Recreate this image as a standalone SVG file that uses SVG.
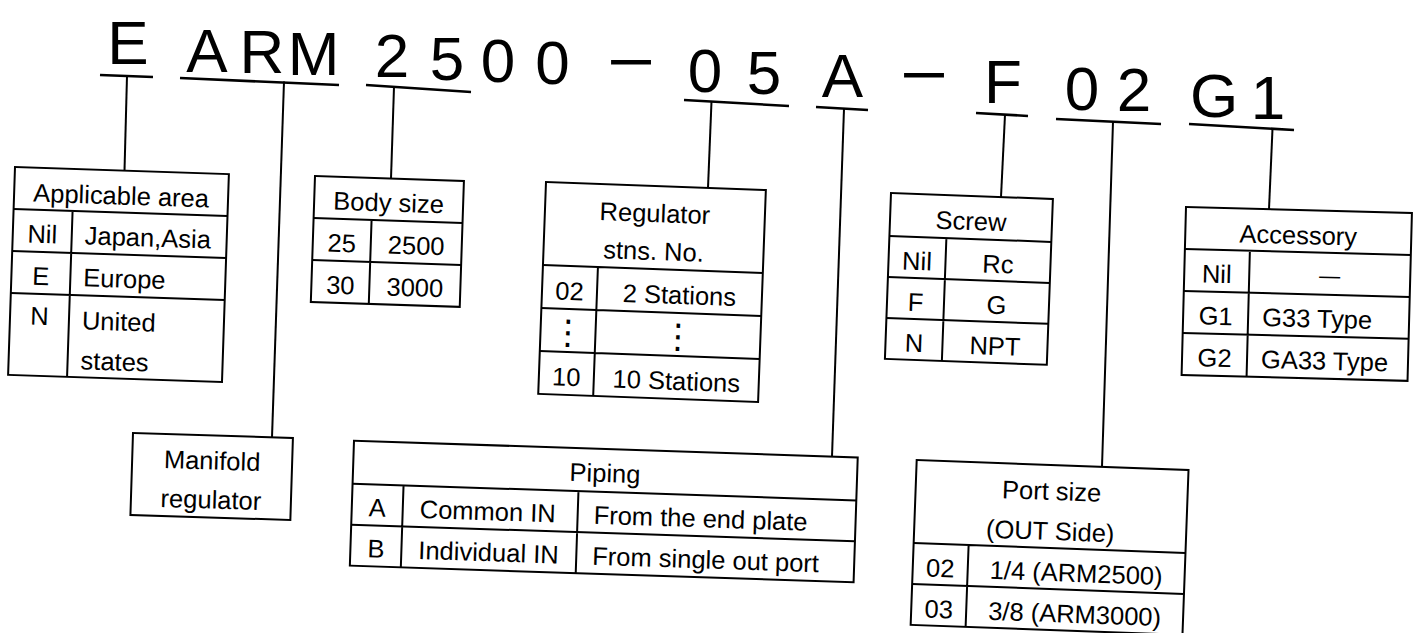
<svg xmlns="http://www.w3.org/2000/svg" width="1420" height="633" viewBox="0 0 1420 633">
<style>
text { font-family: "Liberation Sans", Arial, "DejaVu Sans", sans-serif; fill: #000; }
.t { font-size: 25.5px; }
.c { text-anchor: middle; }
.h { font-size: 62px; text-anchor: middle; }
.box { fill: #fff; stroke: #000; stroke-width: 2; }
.grid { fill: none; stroke: #000; stroke-width: 2; }
.ul { stroke: #000; stroke-width: 2.6; }
.ld { stroke: #000; stroke-width: 2; }
.dots { font-family: "DejaVu Sans", sans-serif; font-size: 34px; text-anchor: middle; }
.em { font-size: 21px; text-anchor: middle; }
</style>
<rect width="1420" height="633" fill="#fff"/>

<g id="model-code">
<text class="h" x="128" y="64">E</text>
<text class="h" x="207" y="71.5">A</text>
<text class="h" x="262" y="73">R</text>
<text class="h" x="313.5" y="74.5">M</text>
<text class="h" x="392" y="77">2</text>
<text class="h" x="447" y="79.5">5</text>
<text class="h" x="498" y="82">0</text>
<text class="h" x="552.5" y="84">0</text>
<text class="h" x="631" y="83" textLength="48" lengthAdjust="spacingAndGlyphs">−</text>
<text class="h" x="705" y="92">0</text>
<text class="h" x="764" y="94">5</text>
<text class="h" x="842.5" y="97">A</text>
<text class="h" x="924" y="96" textLength="48" lengthAdjust="spacingAndGlyphs">−</text>
<text class="h" x="1003" y="103">F</text>
<text class="h" x="1082" y="109.5">0</text>
<text class="h" x="1134" y="111">2</text>
<text class="h" x="1214" y="117">G</text>
<text class="h" x="1268" y="119">1</text>
</g>

<g id="connectors">
<line class="ul" x1="100" y1="75" x2="153" y2="77"/>
<line class="ul" x1="180" y1="78" x2="339" y2="85"/>
<line class="ul" x1="366" y1="85" x2="471" y2="92"/>
<line class="ul" x1="684" y1="100" x2="789" y2="106"/>
<line class="ul" x1="816" y1="107" x2="868" y2="110"/>
<line class="ul" x1="976" y1="113" x2="1028" y2="116"/>
<line class="ul" x1="1056" y1="119" x2="1161" y2="124"/>
<line class="ul" x1="1189" y1="124" x2="1294" y2="130"/>
<line class="ld" x1="127" y1="76" x2="124.5" y2="170.6"/>
<line class="ld" x1="284" y1="81.5" x2="272" y2="437.4"/>
<line class="ld" x1="394" y1="87" x2="391" y2="178.5"/>
<line class="ld" x1="711.5" y1="101.5" x2="708" y2="187.9"/>
<line class="ld" x1="844" y1="108.6" x2="832" y2="456.6"/>
<line class="ld" x1="1005" y1="114.7" x2="1001" y2="197"/>
<line class="ld" x1="1113" y1="121.7" x2="1102" y2="466.8"/>
<line class="ld" x1="1272.5" y1="128.7" x2="1269" y2="209.2"/>
</g>

<g id="applicable-area" transform="translate(15,167) rotate(1.9)">
<rect class="box" x="0" y="0" width="214" height="208"/>
<path class="grid" d="M0 42H214M0 84H214M0 126H214M59 42V208"/>
<text class="t c" x="107" y="34">Applicable area</text>
<text class="t c" x="29.5" y="75">Nil</text>
<text class="t" x="72" y="75">Japan,Asia</text>
<text class="t c" x="29.5" y="117">E</text>
<text class="t" x="72" y="117">Europe</text>
<text class="t c" x="29.5" y="157">N</text>
<text class="t" x="72" y="160">United</text>
<text class="t" x="72" y="200">states</text>
</g>

<g id="body-size" transform="translate(315,176) rotate(1.9)">
<rect class="box" x="0" y="0" width="149" height="126"/>
<path class="grid" d="M0 42H149M0 84H149M58 42V126"/>
<text class="t c" x="74.5" y="33">Body size</text>
<text class="t c" x="29" y="75">25</text>
<text class="t c" x="103.5" y="75">2500</text>
<text class="t c" x="29" y="117">30</text>
<text class="t c" x="103.5" y="117">3000</text>
</g>

<g id="regulator-stations" transform="translate(546,182) rotate(2.1)">
<rect class="box" x="0" y="0" width="220" height="212"/>
<path class="grid" d="M0 83H220M0 126H220M0 169H220M55 83V212"/>
<text class="t c" x="110" y="36">Regulator</text>
<text class="t c" x="110" y="74">stns. No.</text>
<text class="t c" x="27.5" y="117">02</text>
<text class="t c" x="137.5" y="117">2 Stations</text>
<text class="dots" x="27.5" y="161">⋮</text>
<text class="dots" x="137.5" y="161">⋮</text>
<text class="t c" x="27.5" y="203">10</text>
<text class="t c" x="137.5" y="203">10 Stations</text>
</g>

<g id="screw" transform="translate(891,193) rotate(2.1)">
<rect class="box" x="0" y="0" width="162" height="166"/>
<path class="grid" d="M0 43H162M0 84H162M0 125H162M57 43V166"/>
<text class="t c" x="81" y="34">Screw</text>
<text class="t c" x="28.5" y="76">Nil</text>
<text class="t c" x="109.5" y="76">Rc</text>
<text class="t c" x="28.5" y="117">F</text>
<text class="t c" x="109.5" y="117">G</text>
<text class="t c" x="28.5" y="158">N</text>
<text class="t c" x="109.5" y="158">NPT</text>
</g>

<g id="accessory" transform="translate(1186,207) rotate(1.5)">
<rect class="box" x="0" y="0" width="226" height="168"/>
<path class="grid" d="M0 42H226M0 84H226M0 126H226M65 42V168"/>
<text class="t c" x="113" y="34">Accessory</text>
<text class="t c" x="32.5" y="75">Nil</text>
<text class="em" x="145.5" y="72">—</text>
<text class="t c" x="32.5" y="117">G1</text>
<text class="t" x="79" y="117">G33 Type</text>
<text class="t c" x="32.5" y="159">G2</text>
<text class="t" x="79" y="159">GA33 Type</text>
</g>

<g id="manifold-regulator" transform="translate(133,433) rotate(1.8)">
<rect class="box" x="0" y="0" width="160" height="82"/>
<text class="t c" x="80" y="34">Manifold</text>
<text class="t c" x="80" y="73">regulator</text>
</g>

<g id="piping" transform="translate(354,440.7) rotate(1.9)">
<rect class="box" x="0" y="0" width="504" height="125"/>
<path class="grid" d="M0 43H504M0 84H504M51 43V125M226 43V125"/>
<text class="t c" x="252" y="33">Piping</text>
<text class="t c" x="25.5" y="75">A</text>
<text class="t" x="68" y="75">Common IN</text>
<text class="t" x="242" y="75">From the end plate</text>
<text class="t c" x="25.5" y="116">B</text>
<text class="t" x="68" y="116">Individual IN</text>
<text class="t" x="242" y="116">From single out port</text>
</g>

<g id="port-size" transform="translate(916.7,460) rotate(2.1)">
<rect class="box" x="0" y="0" width="272" height="165"/>
<path class="grid" d="M0 83H272M0 124H272M55 83V165"/>
<text class="t c" x="136" y="35">Port size</text>
<text class="t c" x="136" y="75">(OUT Side)</text>
<text class="t c" x="27.5" y="116">02</text>
<text class="t c" x="163.5" y="116">1/4 (ARM2500)</text>
<text class="t c" x="27.5" y="157">03</text>
<text class="t c" x="163.5" y="157">3/8 (ARM3000)</text>
</g>
</svg>
